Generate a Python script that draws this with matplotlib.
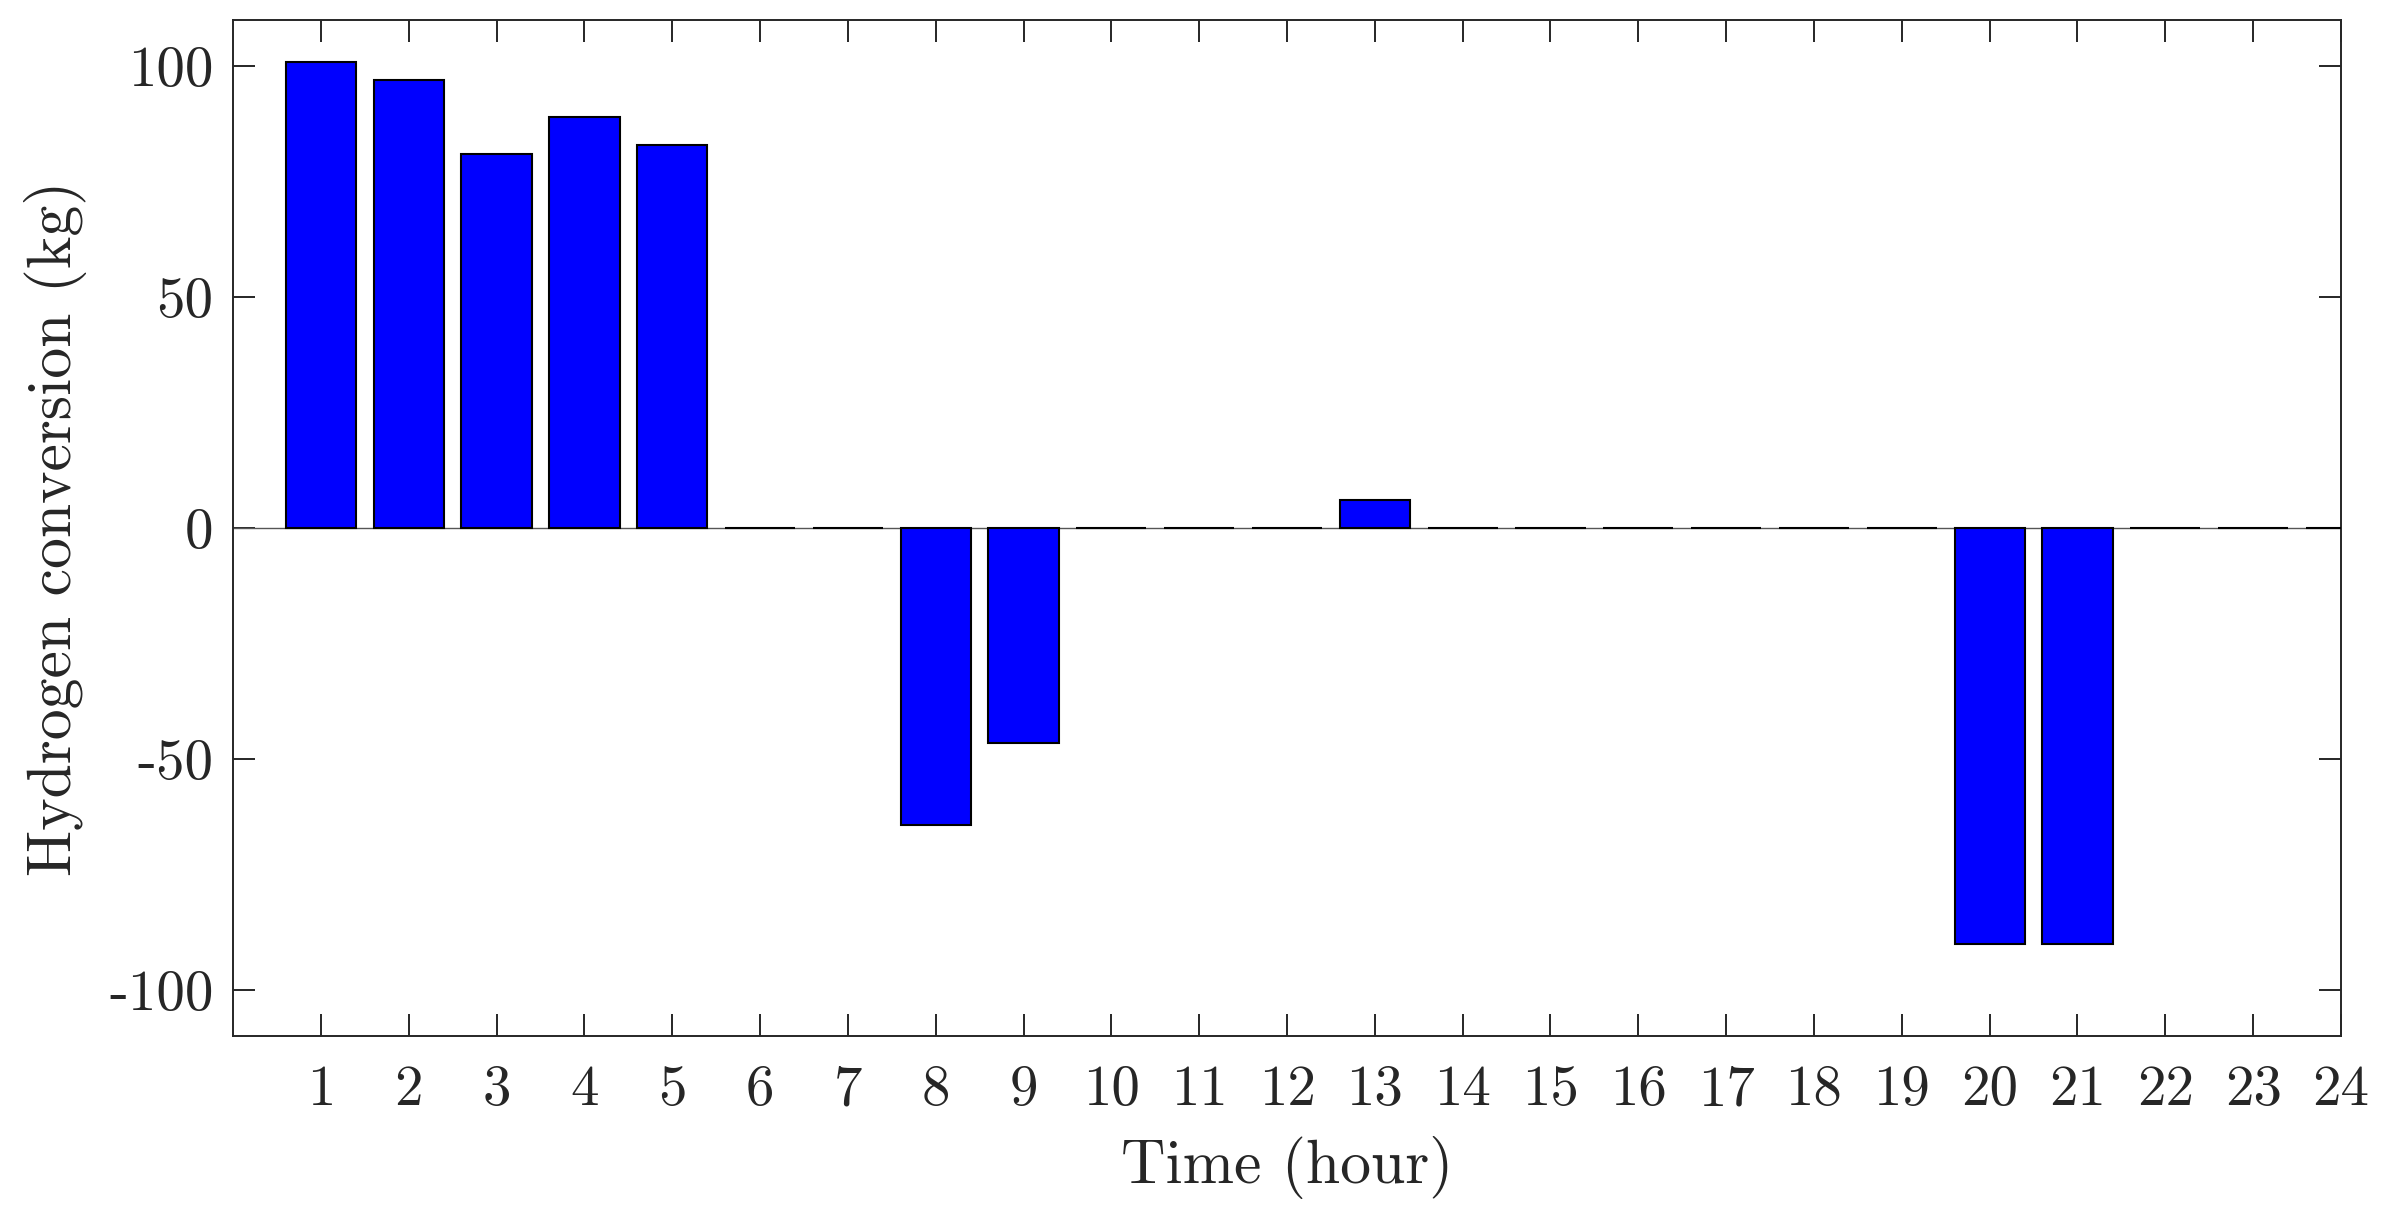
import matplotlib
matplotlib.use("Agg")
import matplotlib.pyplot as plt

hours = list(range(1, 25))
conversion = [101, 97, 81, 89, 83, 0, 0, -64.3, -46.6, 0, 0, 0, 6, 0, 0, 0, 0, 0, 0, -90, -90, 0, 0, 0]
yticks = [-100, -50, 0, 50, 100]
ytick_labels = ["-100", "-50", "0", "50", "100"]
xlabel = "Time (hour)"
ylabel = "Hydrogen conversion (kg)"

plt.rcParams['font.family'] = 'cmr10'
plt.rcParams['axes.unicode_minus'] = False
txt = '#262626'

fig = plt.figure(figsize=(11.94, 6.09), dpi=200)
ax = fig.add_axes([0.0976, 0.1494, 0.9803 - 0.0976, 0.9836 - 0.1494])

ax.axhline(0, color='#555555', linewidth=0.5, zorder=2)
ax.bar(hours[:len(conversion)], conversion, width=0.8, color='#0000ff',
       edgecolor='black', linewidth=0.75, zorder=3)

ax.set_xlim(0, 24)
ax.set_ylim(-110, 110)
ax.set_xticks(hours)
ax.set_xticklabels([str(h) for h in hours])
ax.set_yticks(yticks)
ax.set_yticklabels(ytick_labels)

for s in ax.spines.values():
    s.set_color(txt)
    s.set_linewidth(0.7)
ax.tick_params(direction='in', length=8, width=0.7, color=txt, labelcolor=txt,
               labelsize=20.5, top=True, right=True)
ax.tick_params(axis='x', pad=10.5)
ax.tick_params(axis='y', pad=7)

ax.set_xlabel(xlabel, fontsize=22.2, color=txt, labelpad=7)
ax.set_ylabel(ylabel, fontsize=22.2, color=txt, labelpad=8)

fig.savefig('out.png', dpi=200, facecolor='white')
